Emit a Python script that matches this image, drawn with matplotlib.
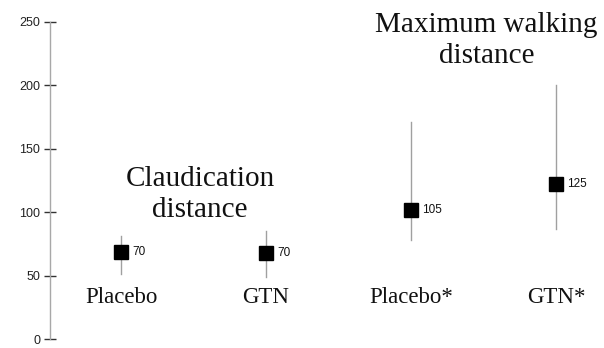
import matplotlib

matplotlib.use("Agg")

import matplotlib.pyplot as plt

# data
groups = ["Placebo", "GTN", "Placebo*", "GTN*"]
medians = [69, 68, 102, 122]
lows = [51, 49, 78, 87]
highs = [81, 85, 171, 200]
value_labels = ["70", "70", "105", "125"]
y_ticks = [0, 50, 100, 150, 200, 250]

SERIF = ["Liberation Serif", "DejaVu Serif"]
SANS = ["Liberation Sans", "DejaVu Sans"]
AXIS_GREY = "#a8a8a8"
BAR_GREY = "#a0a0a0"

fig = plt.figure(figsize=(6.04, 3.48), dpi=100, facecolor="white")
ax = fig.add_axes([50 / 604, 9 / 348, 554 / 604, 317 / 348])

x = list(range(1, len(groups) + 1))

for xi, lo, hi in zip(x, lows, highs):
    ax.plot([xi, xi], [lo, hi], color=BAR_GREY, linewidth=1.0, zorder=1)

ax.plot(x, medians, linestyle="none", marker="s", markersize=9.5,
        color="black", zorder=3)

for xi, m, lab in zip(x, medians, value_labels):
    ax.annotate(lab, (xi, m), xytext=(8, 0), textcoords="offset points",
                ha="left", va="center", fontsize=8.5, family=SANS, color="#111111")

for xi, g in zip(x, groups):
    ax.text(xi, 33, g, ha="center", va="center", fontsize=16.5,
            family=SERIF, color="#111111")

# panel titles
ax.text(1.545, 121, "Claudication", ha="center", va="baseline",
        fontsize=21, family=SERIF, color="#111111")
ax.text(1.545, 96.5, "distance", ha="center", va="baseline",
        fontsize=21, family=SERIF, color="#111111")
ax.text(3.52, 242.5, "Maximum walking", ha="center", va="baseline",
        fontsize=21, family=SERIF, color="#111111")
ax.text(3.52, 218, "distance", ha="center", va="baseline",
        fontsize=21, family=SERIF, color="#111111")

ax.set_xlim(0.51, 4.33)
ax.set_ylim(0, 250)
ax.set_yticks(y_ticks)
ax.set_xticks([])

for side in ["top", "right", "bottom"]:
    ax.spines[side].set_visible(False)
ax.spines["left"].set_color(AXIS_GREY)
ax.spines["left"].set_linewidth(1.0)

ax.tick_params(axis="y", direction="inout", length=8, width=1.0,
               color="#333333", labelsize=9, labelcolor="#222222", pad=3)
for lab in ax.get_yticklabels():
    lab.set_family(SANS)

fig.savefig("out.png", dpi=100, facecolor="white")
